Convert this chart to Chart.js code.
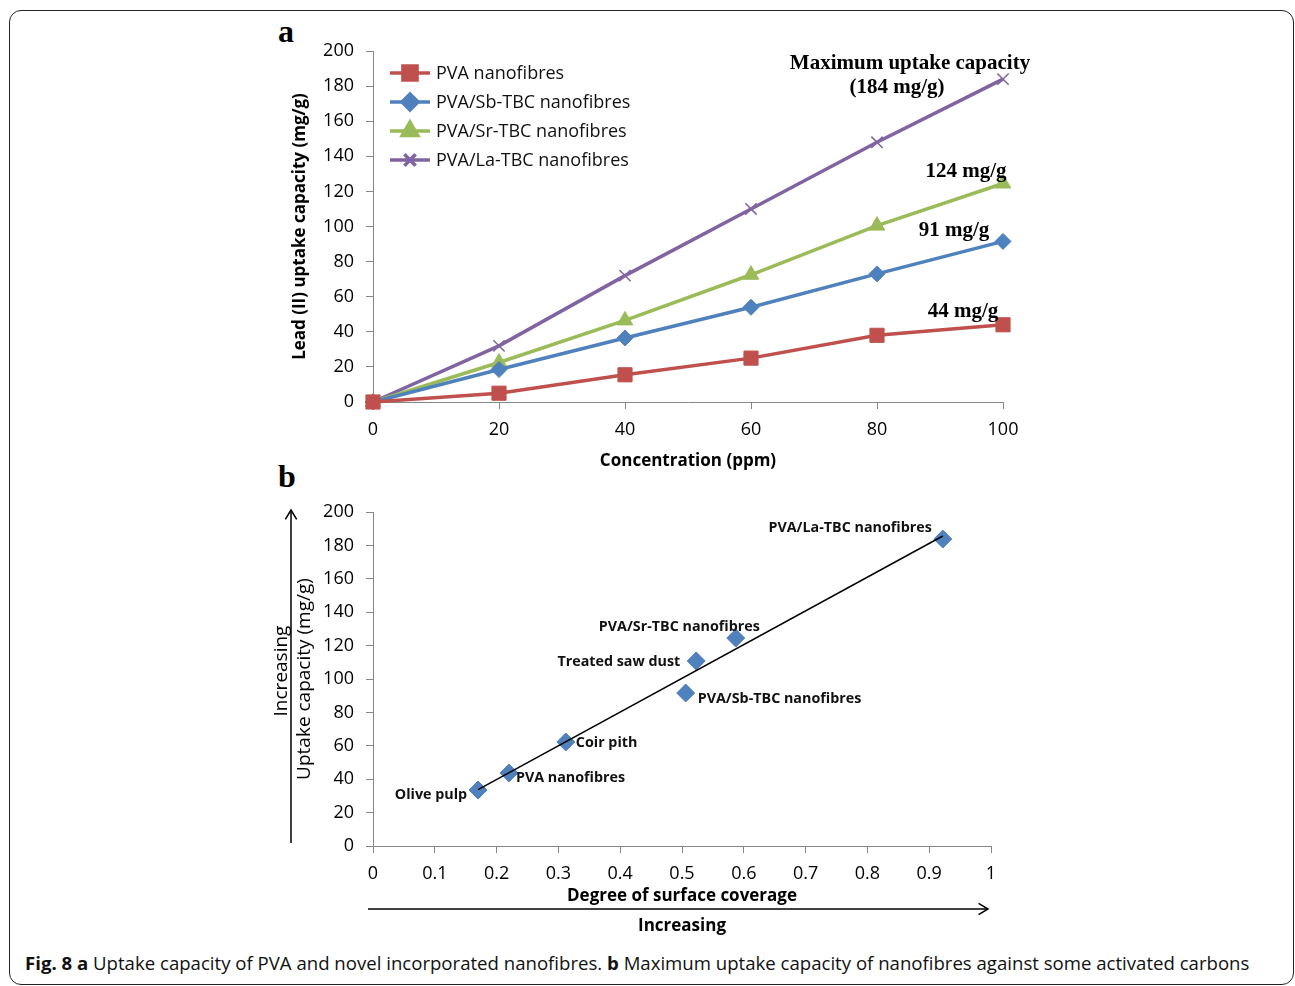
<!DOCTYPE html>
<html>
<head>
<meta charset="utf-8">
<script src="https://cdn.jsdelivr.net/npm/chart.js@4.4.1/dist/chart.umd.min.js"></script>
<style>
  body { margin: 0; background: #fff; width: 1295px; height: 986px; position: relative; overflow: hidden; font-family: 'Open Sans', sans-serif; }
  .frame { position: absolute; left: 9px; top: 10px; width: 1285px; height: 975px; border: 1.5px solid #222; border-radius: 12px; box-sizing: border-box; }
  .panel-letter { position: absolute; font-family: 'Liberation Serif', serif; font-weight: bold; font-size: 32px; line-height: 1; }
  #wrapA { position: absolute; left: 260px; top: 40px; width: 780px; height: 440px; }
  #wrapB { position: absolute; left: 260px; top: 495px; width: 780px; height: 445px; }
  .caption { position: absolute; left: 25px; top: 950px; font-size: 18.6px; white-space: nowrap; color: #111; }
  .caption b { font-weight: bold; }
</style>
</head>
<body>
<div class="frame"></div>
<div class="panel-letter" style="left:278px; top:15px;">a</div>
<div class="panel-letter" style="left:278px; top:460px;">b</div>
<div id="wrapA"><canvas id="chartA"></canvas></div>
<div id="wrapB"><canvas id="chartB"></canvas></div>
<div class="caption"><b>Fig. 8 a</b> Uptake capacity of PVA and novel incorporated nanofibres. <b>b</b> Maximum uptake capacity of nanofibres against some activated carbons</div>

<script>
// panel a data
const concentration = [0, 20, 40, 60, 80, 100];
const pvaUptake = [0, 5, 15.5, 25, 38, 44];
const sbUptake = [0, 18.5, 36.5, 54, 73, 91.5];
const srUptake = [0, 22.5, 46.5, 72.5, 100.5, 124.5];
const laUptake = [0, 32, 72, 110, 148, 184];
const seriesNames = ['PVA nanofibres', 'PVA/Sb-TBC nanofibres', 'PVA/Sr-TBC nanofibres', 'PVA/La-TBC nanofibres'];
const endLabels = ['44 mg/g', '91 mg/g', '124 mg/g', 'Maximum uptake capacity', '(184 mg/g)'];

// panel b data
const materials = ['Olive pulp', 'PVA nanofibres', 'Coir pith', 'PVA/Sb-TBC nanofibres', 'Treated saw dust', 'PVA/Sr-TBC nanofibres', 'PVA/La-TBC nanofibres'];
const coverage = [0.17, 0.22, 0.312, 0.506, 0.523, 0.587, 0.922];
const capacity = [33.5, 43.7, 62.3, 91.6, 110.8, 124.5, 183.8];

const colors = ['#C0504D', '#4F81BD', '#9BBB59', '#8064A2'];
const markers = ['rect', 'rectRot', 'triangle', 'crossRot'];
const markerSize = [10, 8, 9, 8];
const axisGrey = '#868686';

function toPoints(xs, ys) {
  const pts = [];
  for (let i = 0; i < xs.length; i++) pts.push({ x: xs[i], y: ys[i] });
  return pts;
}

function drawMarker(ctx, style, r, x, y) {
  Chart.helpers.drawPoint(ctx, {
    pointStyle: style, radius: r, borderWidth: style === 'crossRot' ? 1.5 : 1, rotation: 0
  }, x, y);
}

// drop the half-label padding Chart.js adds, so the plot area sits where the layout says
function noLabelPad(scale) {
  scale.paddingTop = 0;
  scale.paddingBottom = 0;
}

const allSeries = [pvaUptake, sbUptake, srUptake, laUptake];
const datasetsA = [];
for (let i = 0; i < allSeries.length; i++) {
  datasetsA.push({
    label: seriesNames[i],
    data: toPoints(concentration, allSeries[i]),
    borderColor: colors[i],
    backgroundColor: colors[i],
    borderWidth: 3.5,
    pointStyle: markers[i],
    pointRadius: markerSize[i],
    pointBorderWidth: i === 3 ? 1.5 : 1,
    pointBackgroundColor: colors[i],
    pointBorderColor: colors[i],
    tension: 0,
    clip: false
  });
}

const legendAndNotes = {
  id: 'legendAndNotes',
  afterDatasetsDraw(chart) {
    const ctx = chart.ctx;
    const area = chart.chartArea;
    ctx.save();
    // legend inside plot area
    for (let i = 0; i < seriesNames.length; i++) {
      const y = area.top + 22 + i * 29;
      const x0 = area.left + 17;
      ctx.strokeStyle = colors[i];
      ctx.lineWidth = 3.5;
      ctx.beginPath();
      ctx.moveTo(x0, y);
      ctx.lineTo(x0 + 40, y);
      ctx.stroke();
      ctx.fillStyle = colors[i];
      drawMarker(ctx, markers[i], markerSize[i], x0 + 20, y);
      ctx.fillStyle = '#111';
      ctx.font = '18px "Open Sans"';
      ctx.textAlign = 'left';
      ctx.textBaseline = 'middle';
      ctx.fillText(seriesNames[i], x0 + 46, y + 1);
    }
    // end-point notes
    ctx.font = 'bold 21px "Liberation Serif"';
    ctx.fillStyle = '#000';
    ctx.textAlign = 'center';
    const offsets = [[-40, -13], [-49, -11], [-37, -12], [-93, -16], [-106, 8]];
    const seriesOf = [0, 1, 2, 3, 3];
    for (let i = 0; i < endLabels.length; i++) {
      const meta = chart.getDatasetMeta(seriesOf[i]);
      const p = meta.data[meta.data.length - 1];
      ctx.fillText(endLabels[i], p.x + offsets[i][0], p.y + offsets[i][1]);
    }
    ctx.restore();
  }
};

new Chart(document.getElementById('chartA'), {
  type: 'line',
  data: { datasets: datasetsA },
  options: {
    responsive: true,
    maintainAspectRatio: false,
    animation: false,
    devicePixelRatio: 1,
    layout: { padding: { top: 10, right: 37, left: 0, bottom: 0 } },
    plugins: { legend: { display: false }, tooltip: { enabled: false } },
    scales: {
      x: {
        type: 'linear', min: 0, max: 100,
        ticks: { stepSize: 20, color: '#000', font: { family: 'Open Sans', size: 18 }, padding: 10 },
        grid: { drawOnChartArea: false, drawTicks: true, tickLength: 7, color: axisGrey },
        border: { color: axisGrey },
        title: { display: true, text: 'Concentration (ppm)', color: '#000', font: { family: 'Open Sans', size: 17, weight: 'bold' }, padding: { top: 0, bottom: 9 } },
        afterFit(scale) { scale.height = 78; }
      },
      y: {
        min: 0, max: 200,
        ticks: { stepSize: 20, color: '#000', font: { family: 'Open Sans', size: 18 }, padding: 12 },
        grid: { drawOnChartArea: false, drawTicks: true, tickLength: 7, color: axisGrey },
        border: { color: axisGrey },
        title: { display: true, text: 'Lead (II) uptake capacity (mg/g)', color: '#000', font: { family: 'Open Sans', size: 17, weight: 'bold' }, padding: { top: 30, bottom: 0 } },
        afterFit(scale) { scale.width = 113; noLabelPad(scale); }
      }
    }
  },
  plugins: [legendAndNotes]
});

// least squares trend for panel b
function trendPoints(xs, ys) {
  const n = xs.length;
  let sx = 0, sy = 0, sxx = 0, sxy = 0;
  for (let i = 0; i < n; i++) {
    sx += xs[i]; sy += ys[i]; sxx += xs[i] * xs[i]; sxy += xs[i] * ys[i];
  }
  const slope = (n * sxy - sx * sy) / (n * sxx - sx * sx);
  const icpt = (sy - slope * sx) / n;
  const lo = Math.min.apply(null, xs);
  const hi = Math.max.apply(null, xs);
  return [{ x: lo, y: icpt + slope * lo }, { x: hi, y: icpt + slope * hi }];
}

// label placement for panel b: [dx, dy, align]
const labelPlace = [[-11, 5, 'right'], [7, 5, 'left'], [10, 1, 'left'], [12, 6, 'left'], [-16, 1, 'right'], [24, -11, 'right'], [-11, -11, 'right']];

function arrowHead(ctx, x, y, angle) {
  const len = 11;
  ctx.beginPath();
  ctx.moveTo(x + Math.cos(angle + 2.6) * len, y + Math.sin(angle + 2.6) * len);
  ctx.lineTo(x, y);
  ctx.lineTo(x + Math.cos(angle - 2.6) * len, y + Math.sin(angle - 2.6) * len);
  ctx.stroke();
}

const pointNotes = {
  id: 'pointNotes',
  afterDatasetsDraw(chart) {
    const ctx = chart.ctx;
    const area = chart.chartArea;
    const meta = chart.getDatasetMeta(1);
    ctx.save();
    ctx.fillStyle = '#111';
    ctx.font = 'bold 14.3px "Open Sans"';
    ctx.textBaseline = 'middle';
    for (let i = 0; i < materials.length; i++) {
      const p = meta.data[i];
      ctx.textAlign = labelPlace[i][2];
      ctx.fillText(materials[i], p.x + labelPlace[i][0], p.y + labelPlace[i][1]);
    }
    // increasing arrows
    ctx.strokeStyle = '#000';
    ctx.lineWidth = 1.5;
    const ay = area.bottom + 63;
    ctx.beginPath();
    ctx.moveTo(area.left - 5, ay);
    ctx.lineTo(area.right - 3, ay);
    ctx.stroke();
    arrowHead(ctx, area.right - 3, ay, 0);
    const ax = area.left - 82;
    ctx.beginPath();
    ctx.moveTo(ax, area.bottom - 3);
    ctx.lineTo(ax, area.top - 2);
    ctx.stroke();
    arrowHead(ctx, ax, area.top - 2, -Math.PI / 2);

    ctx.fillStyle = '#000';
    ctx.textAlign = 'center';
    ctx.font = 'bold 17px "Open Sans"';
    ctx.fillText('Increasing', (area.left + area.right) / 2, area.bottom + 80);
    ctx.translate(area.left - 91, area.top + 159);
    ctx.rotate(-Math.PI / 2);
    ctx.font = '19px "Open Sans"';
    ctx.fillText('Increasing', 0, 0);
    ctx.restore();
  }
};

new Chart(document.getElementById('chartB'), {
  type: 'scatter',
  data: {
    datasets: [
      {
        type: 'line',
        label: 'Trend',
        data: trendPoints(coverage, capacity),
        borderColor: '#000',
        borderWidth: 1.5,
        pointRadius: 0,
        fill: false,
        clip: false
      },
      {
        label: 'Materials',
        data: toPoints(coverage, capacity),
        pointStyle: 'rectRot',
        pointRadius: 9,
        pointBackgroundColor: '#4F81BD',
        pointBorderColor: '#4F81BD',
        pointBorderWidth: 1,
        clip: false
      }
    ]
  },
  options: {
    responsive: true,
    maintainAspectRatio: false,
    animation: false,
    devicePixelRatio: 1,
    layout: { padding: { top: 17, right: 49, left: 0, bottom: 0 } },
    plugins: { legend: { display: false }, tooltip: { enabled: false } },
    scales: {
      x: {
        type: 'linear', min: 0, max: 1,
        ticks: {
          stepSize: 0.1, color: '#000', font: { family: 'Open Sans', size: 18 }, padding: 10,
          callback: function (v) { return String(Number(v.toFixed(1))); }
        },
        grid: { drawOnChartArea: false, drawTicks: true, tickLength: 7, color: axisGrey },
        border: { color: axisGrey },
        title: { display: true, text: 'Degree of surface coverage', color: '#000', font: { family: 'Open Sans', size: 17, weight: 'bold' }, padding: { top: 0, bottom: 34 } },
        afterFit(scale) { scale.height = 94; }
      },
      y: {
        min: 0, max: 200,
        ticks: { stepSize: 20, color: '#000', font: { family: 'Open Sans', size: 18 }, padding: 12 },
        grid: { drawOnChartArea: false, drawTicks: true, tickLength: 7, color: axisGrey },
        border: { color: axisGrey },
        title: { display: true, text: 'Uptake capacity (mg/g)', color: '#000', font: { family: 'Open Sans', size: 19 }, padding: { top: 33, bottom: 0 } },
        afterFit(scale) { scale.width = 113; noLabelPad(scale); }
      }
    }
  },
  plugins: [pointNotes]
});
</script>
</body>
</html>
